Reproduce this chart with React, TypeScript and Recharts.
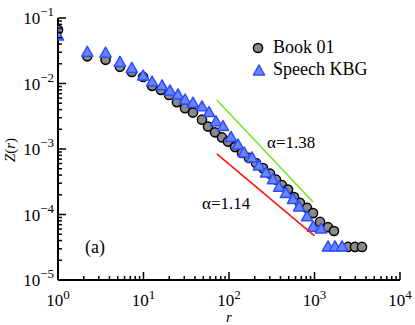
import { ScatterChart, Scatter, XAxis, YAxis, Legend } from 'recharts'

// Book 01 (circles)
const bookR = [1, 2.2, 3.6, 5.3, 7.3, 9.9, 12.6, 16, 19.9, 24.6, 30.6, 37.9, 48.3, 56.8, 68.6, 82.8, 97.3, 117.5, 141.9, 171.3, 207, 250, 302, 355, 417, 490, 576, 676, 817, 960, 1159, 1439, 1690, 2466, 2976, 3594]
const bookZ = [0.066, 0.026, 0.023, 0.018, 0.015, 0.0126, 0.0092, 0.008, 0.0067, 0.0052, 0.0042, 0.0036, 0.0028, 0.0022, 0.0018, 0.0015, 0.0013, 0.00107, 0.00087, 0.00073, 0.00061, 0.00051, 0.00042, 0.00034, 0.00028, 0.00024, 0.000185, 0.00015, 0.000126, 0.000105, 0.000077, 0.000064, 0.000056, 0.000032, 0.000032, 0.000032]

// Speech KBG (triangles)
const speechR = [1, 2.2, 3.6, 5.3, 7.3, 9.9, 12.6, 16.5, 20.4, 25.3, 30.6, 37.9, 48.3, 58.4, 70.5, 85.1, 105.5, 127.4, 149.8, 185.7, 224, 271, 327, 385, 464, 561, 659, 817, 960, 1191, 1439, 1738, 2099]
const speechZ = [0.053, 0.03, 0.029, 0.021, 0.017, 0.013, 0.0105, 0.0092, 0.0077, 0.0067, 0.0056, 0.005, 0.0044, 0.0036, 0.0026, 0.0022, 0.0015, 0.00115, 0.00087, 0.00073, 0.00055, 0.00043, 0.00034, 0.00026, 0.00021, 0.00017, 0.00013, 0.000092, 0.000064, 0.00006, 0.000032, 0.000032, 0.000032]

// guide lines
const fit138R = [72, 960]
const fit138Z = [0.0056, 0.000155]
const fit114R = [72, 1000]
const fit114Z = [0.00084, 0.000047]

const xDecades = [1, 10, 100, 1000, 10000]
const yDecades = [1e-5, 1e-4, 1e-3, 1e-2, 1e-1]
const minorSteps = [2, 3, 4, 5, 6, 7, 8, 9]

const xTicks = [...xDecades, ...xDecades.slice(0, -1).flatMap((d) => minorSteps.map((m) => m * d))]
const yTicks = [...yDecades, ...yDecades.slice(0, -1).flatMap((d) => minorSteps.map((m) => m * d))]

const bookData = bookR.map((r, i) => ({ r, z: bookZ[i] }))
const speechData = speechR.map((r, i) => ({ r, z: speechZ[i] }))
const fit138 = fit138R.map((r, i) => ({ r, z: fit138Z[i] }))
const fit114 = fit114R.map((r, i) => ({ r, z: fit114Z[i] }))

const FONT = 'Liberation Serif, DejaVu Serif, serif'

const isMajor = (v: number) => {
  const l = Math.log10(v)
  return Math.abs(l - Math.round(l)) < 1e-6
}
const expLabel = (v: number) => {
  const e = Math.round(Math.log10(v))
  return e < 0 ? `\u2212${-e}` : `${e}`
}

const BottomTick = ({ x, y, payload }: any) => {
  const major = isMajor(payload.value)
  return (
    <g>
      <line x1={x} y1={y} x2={x} y2={y - (major ? 8 : 4)} stroke="#000" strokeWidth={1.5} />
      {major && (
        <text x={x} y={y + 26} textAnchor="middle" fontFamily={FONT} fontSize={17} fill="#000">
          <tspan>10</tspan>
          <tspan dy={-7} fontSize={13}>{expLabel(payload.value)}</tspan>
        </text>
      )}
    </g>
  )
}

const TopTick = ({ x, y, payload }: any) => {
  const major = isMajor(payload.value)
  return <line x1={x} y1={y} x2={x} y2={y + (major ? 8 : 4)} stroke="#000" strokeWidth={1.5} />
}

const LeftTick = ({ x, y, payload }: any) => {
  const major = isMajor(payload.value)
  return (
    <g>
      <line x1={x} y1={y} x2={x + (major ? 8 : 4)} y2={y} stroke="#000" strokeWidth={1.5} />
      {major && (
        <text x={x - 4} y={y + 6} textAnchor="end" fontFamily={FONT} fontSize={17} fill="#000">
          <tspan>10</tspan>
          <tspan dy={-8} fontSize={13}>{expLabel(payload.value)}</tspan>
        </text>
      )}
    </g>
  )
}

const RightTick = ({ x, y, payload }: any) => {
  const major = isMajor(payload.value)
  return <line x1={x} y1={y} x2={x - (major ? 8 : 4)} y2={y} stroke="#000" strokeWidth={1.5} />
}

const CircleMark = ({ cx, cy }: any) => (
  <circle cx={cx} cy={cy} r={4.6} fill="#8a8a8a" stroke="#000" strokeWidth={1.5} />
)

const TriangleMark = ({ cx, cy }: any) => (
  <path
    d={`M${cx},${cy - 6} L${cx + 5.6},${cy + 4} L${cx - 5.6},${cy + 4} Z`}
    fill="#6a84ff"
    stroke="#2d4dff"
    strokeWidth={1.5}
    strokeLinejoin="round"
  />
)

const NoMark = () => <g />

const renderLegend = () => (
  <svg width={150} height={50} style={{ overflow: 'visible' }}>
    <circle cx={8} cy={8} r={4.6} fill="#8a8a8a" stroke="#000" strokeWidth={1.5} />
    <text x={23} y={13} fontFamily={FONT} fontSize={18} fill="#000">Book 01</text>
    <path d="M9,25 L14.6,35 L3.4,35 Z" fill="#6a84ff" stroke="#2d4dff" strokeWidth={1.5} strokeLinejoin="round" />
    <text x={23} y={35} fontFamily={FONT} fontSize={18} fill="#000">Speech KBG</text>
  </svg>
)

const axisLine = { stroke: '#000', strokeWidth: 2 }

export default function App() {
  return (
    <div style={{ position: 'absolute', left: 0, top: 0, width: 415, height: 325, background: '#fff' }}>
      <ScatterChart width={415} height={325} margin={{ top: 18, right: 15, bottom: 0, left: 0 }}>
        <XAxis
          dataKey="r"
          type="number"
          scale="log"
          domain={[1, 10000]}
          ticks={xTicks}
          interval={0}
          height={45}
          tickSize={0}
          tickMargin={0}
          tickLine={false}
          axisLine={axisLine}
          tick={<BottomTick />}
          allowDataOverflow
        />
        <XAxis
          xAxisId="top"
          orientation="top"
          dataKey="r"
          type="number"
          scale="log"
          domain={[1, 10000]}
          ticks={xTicks}
          interval={0}
          height={0}
          tickSize={0}
          tickMargin={0}
          tickLine={false}
          axisLine={axisLine}
          tick={<TopTick />}
          allowDataOverflow
        />
        <YAxis
          dataKey="z"
          type="number"
          scale="log"
          domain={[1e-5, 1e-1]}
          ticks={yTicks}
          interval={0}
          width={58}
          tickSize={0}
          tickMargin={0}
          tickLine={false}
          axisLine={axisLine}
          tick={<LeftTick />}
          allowDataOverflow
        />
        <YAxis
          yAxisId="right"
          orientation="right"
          dataKey="z"
          type="number"
          scale="log"
          domain={[1e-5, 1e-1]}
          ticks={yTicks}
          interval={0}
          width={0}
          tickSize={0}
          tickMargin={0}
          tickLine={false}
          axisLine={axisLine}
          tick={<RightTick />}
          allowDataOverflow
        />
        <Scatter name="Book 01" data={bookData} shape={<CircleMark />} isAnimationActive={false} />
        <Scatter name="Speech KBG" data={speechData} shape={<TriangleMark />} isAnimationActive={false} />
        <Scatter
          data={fit138}
          fill="#77e623"
          line={{ stroke: '#77e623', strokeWidth: 1.6 }}
          shape={<NoMark />}
          legendType="none"
          isAnimationActive={false}
        />
        <Scatter
          data={fit114}
          fill="#ff1414"
          line={{ stroke: '#ff1414', strokeWidth: 1.6 }}
          shape={<NoMark />}
          legendType="none"
          isAnimationActive={false}
        />
        <Legend
          layout="horizontal"
          verticalAlign="middle"
          align="center"
          content={renderLegend}
          wrapperStyle={{ left: 250, top: 40, width: 150, height: 50 }}
        />
      </ScatterChart>
      <svg
        width={415}
        height={325}
        style={{ position: 'absolute', left: 0, top: 0, pointerEvents: 'none' }}
        fontFamily={FONT}
      >
        <text x={267} y={148} fontSize={17} fill="#000">α=1.38</text>
        <text x={202} y={209} fontSize={17} fill="#000">α=1.14</text>
        <text x={85} y={253} fontSize={18} fill="#000">(a)</text>
        <text x={229} y={322} fontSize={15} fontStyle="italic" textAnchor="middle" fill="#000">r</text>
        <text transform="translate(15,150) rotate(-90)" fontSize={15} textAnchor="middle" fill="#000">
          <tspan fontStyle="italic">Z</tspan>(<tspan fontStyle="italic">r</tspan>)
        </text>
      </svg>
    </div>
  )
}
